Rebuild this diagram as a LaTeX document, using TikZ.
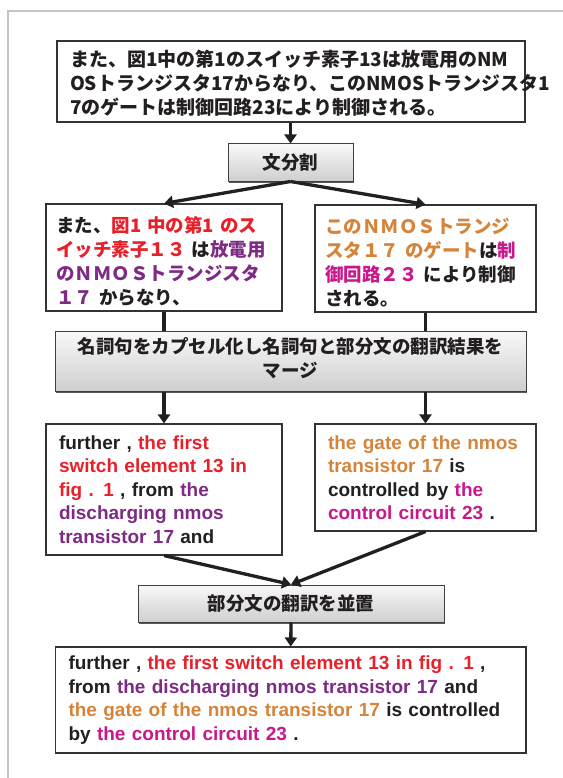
\documentclass[tikz,border=0pt]{standalone}
\usepackage{fontspec}
\setmainfont{Liberation Sans}
\newfontfamily\jp{Noto Sans CJK JP}
\usetikzlibrary{arrows.meta,shadows}
\definecolor{txt}{HTML}{231F20}
\definecolor{cr}{HTML}{E8202A}
\definecolor{cp}{HTML}{7D2B84}
\definecolor{co}{HTML}{D5843A}
\definecolor{cm}{HTML}{C8188C}
\definecolor{frame}{HTML}{C4C4C4}
\begin{document}
\begin{tikzpicture}[x=1pt,y=-1pt,
  wbox/.style={draw=black!80, line width=1.1pt, fill=white, align=left,
    inner xsep=13pt, inner ysep=0pt, text=txt},
  jpf/.style={font=\jp\bfseries\fontsize{19}{24}\selectfont},
  jps/.style={font=\jp\bfseries\fontsize{18.5}{24}\selectfont},
  enf/.style={font=\bfseries\fontsize{19}{23.5}\selectfont},
  gbox/.style={draw=black!75, line width=1pt, top color=gray!5, bottom color=gray!38,
    drop shadow={shadow xshift=0.6pt, shadow yshift=-2pt, fill=black!65, opacity=1},
    align=center, inner sep=0pt, text=txt, font=\jp\bfseries\fontsize{18.5}{24}\selectfont},
  conn/.style={line width=3.3pt, draw=txt},
  arr/.style={conn, -{Triangle[width=12pt,length=9pt]}}]
\useasboundingbox (0,0) rectangle (562,778);
\draw[frame, line width=2.5pt] (8,780) -- (8,11) -- (564,11);

\node[wbox, jpf, text width=442pt, minimum height=81pt] (top) at (291,81.5)
 {また、図1中の第1のスイッチ素子13は放電用のNM\\
  OSトランジスタ17からなり、このNMOSトランジスタ1\\
  7のゲートは制御回路23により制御される。\vspace*{-4pt}};

\node[gbox, minimum width=125pt, minimum height=37pt] (split) at (290.5,162.5) {文分割};

\node[wbox, jps, text width=216pt, minimum height=107pt, inner xsep=10pt] (ljp) at (164,257.5)
 {また、\textcolor{cr}{図1~中の第1~のス}\\
  \textcolor{cr}{イッチ素子１３}~は\textcolor{cp}{放電用}\\
  \textcolor{cp}{のＮＭＯＳトランジスタ}\\
  \textcolor{cp}{１７}~からなり、\vspace*{-8pt}};

\node[wbox, jps, text width=201pt, minimum height=107pt, inner xsep=10pt] (rjp) at (425.5,258.5)
 {\textcolor{co}{このＮＭＯＳトランジ}\\
  \textcolor{co}{スタ１７~のゲート}は\textcolor{cm}{制}\\
  \textcolor{cm}{御回路２３}~により制御\\
  される。\vspace*{-8pt}};

\node[gbox, minimum width=471pt, minimum height=60pt] (merge) at (290.5,361)
 {名詞句をカプセル化し名詞句と部分文の翻訳結果を\\マージ\vspace*{5pt}};

\node[wbox, enf, text width=210pt, minimum height=131pt] (len) at (164,489.5)
 {further , \textcolor{cr}{the first}\\
  \textcolor{cr}{switch element 13 in}\\
  \textcolor{cr}{fig . 1} , from \textcolor{cp}{the}\\
  \textcolor{cp}{discharging nmos}\\
  \textcolor{cp}{transistor 17} and};

\node[wbox, enf, text width=195pt, minimum height=107pt] (ren) at (425.5,477.5)
 {\textcolor{co}{the gate of the nmos}\\
  \textcolor{co}{transistor 17} is\\
  controlled by \textcolor{cm}{the}\\
  \textcolor{cm}{control circuit 23} .};

\node[gbox, minimum width=306pt, minimum height=37pt] (juxt) at (291,603.5) {部分文の翻訳を並置};

\node[wbox, enf, text width=444.5pt, minimum height=106pt] (final) at (290.75,700)
 {further , \textcolor{cr}{the first switch element 13 in fig . 1} ,\\
  from \textcolor{cp}{the discharging nmos transistor 17} and\\
  \textcolor{co}{the gate of the nmos transistor 17} is controlled\\
  by \textcolor{cm}{the control circuit 23} .};

\draw[arr] (top.south -| split.north) -- (split.north);
\draw[arr] (split.south) -- (ljp.north);
\draw[arr] (split.south) -- (rjp.north);
\draw[conn] (ljp.south) -- (ljp.south |- merge.north);
\draw[conn] (rjp.south) -- (rjp.south |- merge.north);
\draw[arr] (merge.south -| len.north) -- (len.north);
\draw[arr] (merge.south -| ren.north) -- (ren.north);
\draw[arr] (len.south) -- (juxt.north);
\draw[arr] (ren.south) -- (juxt.north);
\draw[arr] (juxt.south) -- (final.north);
\end{tikzpicture}
\end{document}
